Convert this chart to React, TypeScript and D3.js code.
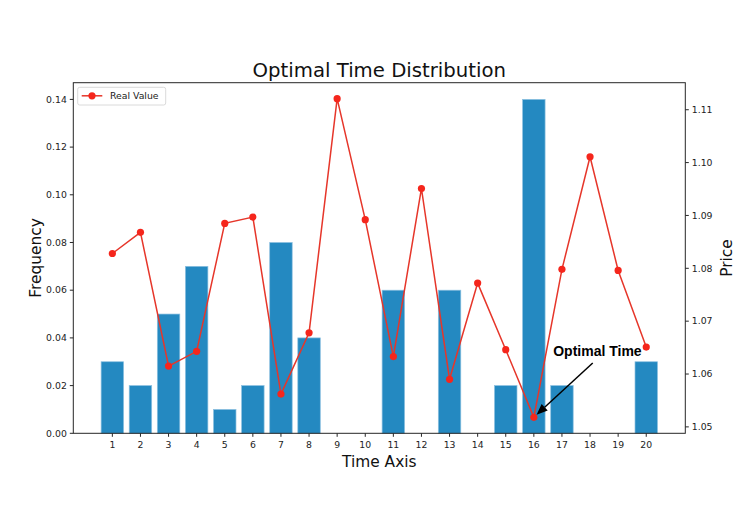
import * as d3 from "d3";

const timeSlots = d3.range(1, 21);
const frequency = [0.03, 0.02, 0.05, 0.07, 0.01, 0.02, 0.08, 0.04, 0, 0, 0.06, 0, 0.06, 0, 0.02, 0.14, 0.02, 0, 0, 0.03];
const realValue = [
  1.0828, 1.0868, 1.0615, 1.0643, 1.0885, 1.0897, 1.0562, 1.0678, 1.1121, 1.0892,
  1.0633, 1.0951, 1.059, 1.0772, 1.0646, 1.0518, 1.0798, 1.1011, 1.0796, 1.0651,
];
const freqTicks = [0, 0.02, 0.04, 0.06, 0.08, 0.1, 0.12, 0.14];
const priceTicks = [1.05, 1.06, 1.07, 1.08, 1.09, 1.1, 1.11];
const optimalIndex = 15;

const W = 747;
const H = 528;
const left = 73.3, right = 685.3, top = 82.7, bottom = 433.3;
const font = "'DejaVu Sans', sans-serif";
const barColor = "#2489c1";
const lineColor = "#e6362a";
const markerColor = "#f5261c";
const axisColor = "#262626";

export default function App() {
  const barW = 0.8;
  const x0 = timeSlots[0] - barW / 2;
  const x1 = timeSlots[timeSlots.length - 1] + barW / 2;
  const xPad = (x1 - x0) * 0.05;
  const x = d3.scaleLinear().domain([x0 - xPad, x1 + xPad]).range([left, right]);

  const yL = d3.scaleLinear().domain([0, d3.max(frequency)! * 1.05]).range([bottom, top]);
  const [pMin, pMax] = d3.extent(realValue) as [number, number];
  const pPad = (pMax - pMin) * 0.05;
  const yR = d3.scaleLinear().domain([pMin - pPad, pMax + pPad]).range([bottom, top]);

  const line = d3.line<number>().x((_, i) => x(timeSlots[i])).y(d => yR(d));

  // annotation
  const ox = x(timeSlots[optimalIndex]);
  const oy = yR(realValue[optimalIndex]);
  const tx = x(16.69);
  const ty = yR(1.0635);
  const ax0 = tx + 39.5, ay0 = ty + 7.5;
  const ang = Math.atan2(oy - ay0, ox - ax0);
  const ex = ox + 2 - Math.cos(ang) * 1, ey = oy - 2 - Math.sin(ang) * 1;
  const headL = 11, headW = 4.5;
  const bx = ex - Math.cos(ang) * headL, by = ey - Math.sin(ang) * headL;
  const px = -Math.sin(ang), py = Math.cos(ang);

  return (
    <svg width={W} height={H} style={{ position: "absolute", left: 0, top: 0, background: "#fff" }} fontFamily={font}>
      <rect width={W} height={H} fill="#fff" />
      {/* bars */}
      {timeSlots.map((t, i) =>
        frequency[i] > 0 ? (
          <rect
            key={t}
            x={x(t - barW / 2)}
            y={yL(frequency[i])}
            width={x(t + barW / 2) - x(t - barW / 2)}
            height={yL(0) - yL(frequency[i])}
            fill={barColor}
            stroke="#8cc0e0"
            strokeWidth={0.7}
          />
        ) : null
      )}
      {/* line */}
      <path d={line(realValue)!} fill="none" stroke={lineColor} strokeWidth={1.5} />
      {realValue.map((v, i) => (
        <circle key={i} cx={x(timeSlots[i])} cy={yR(v)} r={3.6} fill={markerColor} />
      ))}
      {/* frame */}
      <rect x={left} y={top} width={right - left} height={bottom - top} fill="none" stroke={axisColor} strokeWidth={1} />
      {/* left axis */}
      {freqTicks.map(t => (
        <g key={t}>
          <line x1={left} x2={left - 3.5} y1={yL(t)} y2={yL(t)} stroke={axisColor} />
          <text x={left - 6.5} y={yL(t)} dy="0.35em" textAnchor="end" fontSize={9.3} fill="#222">
            {d3.format(".2f")(t)}
          </text>
        </g>
      ))}
      {/* right axis */}
      {priceTicks.map(t => (
        <g key={t}>
          <line x1={right} x2={right + 3.5} y1={yR(t)} y2={yR(t)} stroke={axisColor} />
          <text x={right + 6.5} y={yR(t)} dy="0.35em" textAnchor="start" fontSize={9.3} fill="#222">
            {d3.format(".2f")(t)}
          </text>
        </g>
      ))}
      {/* bottom axis */}
      {timeSlots.map(t => (
        <g key={t}>
          <line x1={x(t)} x2={x(t)} y1={bottom} y2={bottom + 3.5} stroke={axisColor} />
          <text x={x(t)} y={bottom + 14.5} textAnchor="middle" fontSize={9.3} fill="#222">
            {t}
          </text>
        </g>
      ))}
      {/* labels */}
      <text x={(left + right) / 2} y={77} textAnchor="middle" fontSize={19.7} fill="#111">
        Optimal Time Distribution
      </text>
      <text x={(left + right) / 2} y={466.5} textAnchor="middle" fontSize={15.4} fill="#111">
        Time Axis
      </text>
      <text transform={`translate(40.5,${(top + bottom) / 2}) rotate(-90)`} textAnchor="middle" fontSize={15.4} fill="#111">
        Frequency
      </text>
      <text transform={`translate(731.5,${(top + bottom) / 2}) rotate(-90)`} textAnchor="middle" fontSize={15.4} fill="#111">
        Price
      </text>
      {/* legend */}
      <rect x={77.7} y={87.3} width={88} height={17.7} rx={2} fill="#fff" fillOpacity={0.8} stroke="#d0d0d0" strokeWidth={0.8} />
      <line x1={81.7} x2={102.3} y1={95.8} y2={95.8} stroke={lineColor} strokeWidth={1.5} />
      <circle cx={92} cy={95.8} r={3.6} fill={markerColor} />
      <text x={110} y={95.8} dy="0.35em" fontSize={9.3} fill="#222">
        Real Value
      </text>
      {/* annotation */}
      <line x1={ax0} y1={ay0} x2={bx} y2={by} stroke="#000" strokeWidth={1.5} />
      <path
        d={`M${ex},${ey}L${bx + px * headW},${by + py * headW}L${bx - px * headW},${by - py * headW}Z`}
        fill="#000"
      />
      <text x={tx} y={ty} fontSize={14} fontWeight="bold" fontFamily="'Liberation Sans', Arial, sans-serif" fill="#000">
        Optimal Time
      </text>
    </svg>
  );
}
